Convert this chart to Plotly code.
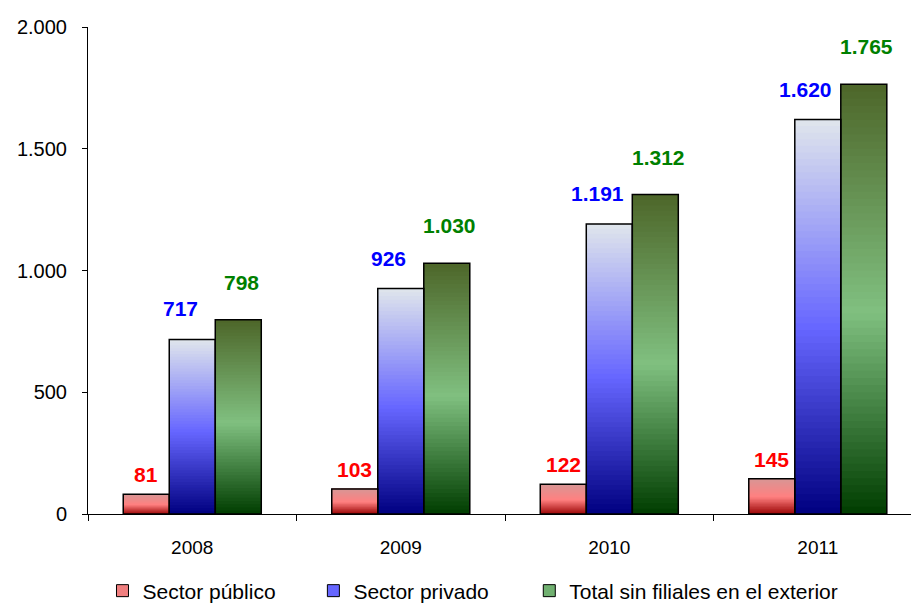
import plotly.graph_objects as go

# ---------------- data ----------------
years = ["2008", "2009", "2010", "2011"]
publico = [81, 103, 122, 145]
privado = [717, 926, 1191, 1620]
total = [798, 1030, 1312, 1765]
series_names = ["Sector público", "Sector privado", "Total sin filiales en el exterior"]
y_ticks = [0, 500, 1000, 1500, 2000]

# ---------------- styles ----------------
FONT = "Arial, Liberation Sans, sans-serif"
# gradient stops (t = 0 bottom, t = 1 top)
grad_pub = [(0.0, (150, 0, 0)), (0.5, (255, 128, 128)), (1.0, (217, 149, 148))]
grad_priv = [(0.0, (0, 0, 128)), (0.47, (102, 102, 255)), (1.0, (224, 230, 236))]
grad_tot = [(0.0, (0, 61, 0)), (0.47, (128, 192, 128)), (1.0, (77, 102, 41))]
legend_cols = ["#f07f7f", "#6666ff", "#70b070"]
label_cols = ["#ff0000", "#0000ff", "#008000"]
legend_x = [0.1125, 0.344, 0.581]   # container fractions
legend_ids = ["legend", "legend2", "legend3"]

N_SEG = 60
BARGAP = 0.338
L, R, T, B = 88, 0, 27, 91
W, H = 911, 605
X_RANGE = [-0.5, 3.447]
cat_px = (W - L - R) / (X_RANGE[1] - X_RANGE[0])
bar_px = cat_px * (1 - BARGAP) / 3
label_dx = [0, -12, 3]
label_dy = [6, 17, 24]


def grad_color(stops, t):
    for (t0, c0), (t1, c1) in zip(stops[:-1], stops[1:]):
        if t0 <= t <= t1:
            f = (t - t0) / (t1 - t0)
            c = [round(a + (b - a) * f) for a, b in zip(c0, c1)]
            return f"rgb({c[0]},{c[1]},{c[2]})"
    c = stops[-1][1]
    return f"rgb({c[0]},{c[1]},{c[2]})"


fig = go.Figure()
all_series = [publico, privado, total]
grads = [grad_pub, grad_priv, grad_tot]
groups = ["pub", "priv", "tot"]

# gradient fills
for vals, grad, grp in zip(all_series, grads, groups):
    xs, ys, bases, cols = [], [], [], []
    for yr, v in zip(years, vals):
        h = v / N_SEG
        for k in range(N_SEG):
            base = k * h
            xs.append(yr)
            ys.append(min(h * 1.6, v - base))
            bases.append(base)
            cols.append(grad_color(grad, (k + 0.5) / N_SEG))
    fig.add_trace(go.Bar(
        x=xs, y=ys, base=bases, offsetgroup=grp,
        marker=dict(color=cols, line=dict(width=0)),
        showlegend=False, hoverinfo="skip"))

# outlines
for vals, grp in zip(all_series, groups):
    fig.add_trace(go.Bar(
        x=years, y=vals, offsetgroup=grp,
        marker=dict(color="rgba(0,0,0,0)", line=dict(color="black", width=1.5)),
        showlegend=False, hoverinfo="skip"))

# legend entries
for name, col, grp, lid in zip(series_names, legend_cols, groups, legend_ids):
    fig.add_trace(go.Bar(
        x=[years[0]], y=[None], offsetgroup=grp, name=name, legend=lid,
        marker=dict(color=col, line=dict(color="black", width=1))))

# data labels
for si, (vals, col) in enumerate(zip(all_series, label_cols)):
    for i, v in enumerate(vals):
        fig.add_annotation(
            x=i, y=v, xref="x", yref="y",
            text="<b>" + f"{v:,}".replace(",", ".") + "</b>",
            showarrow=False, yanchor="bottom",
            xshift=(si - 1) * bar_px + label_dx[si], yshift=label_dy[si],
            font=dict(family=FONT, size=21, color=col))

legend_common = dict(orientation="h", xref="container", yref="container", xanchor="left",
                     y=14 / H, yanchor="middle", font=dict(size=21, family=FONT),
                     bgcolor="rgba(0,0,0,0)")
legends = {}
for lid, lx in zip(legend_ids, legend_x):
    legends[lid] = dict(legend_common, x=lx)

fig.update_layout(
    width=W, height=H,
    margin=dict(l=L, r=R, t=T, b=B, pad=0, autoexpand=False),
    paper_bgcolor="white", plot_bgcolor="white",
    barmode="group", bargap=BARGAP, bargroupgap=0,
    separators=",.",
    font=dict(family=FONT, color="black"),
    showlegend=True,
    xaxis=dict(type="category", range=X_RANGE, showline=True, linecolor="black", linewidth=1,
               ticks="outside", ticklen=6, tickcolor="black", tickson="boundaries",
               showgrid=False, tickfont=dict(size=19), ticklabelstandoff=16),
    yaxis=dict(range=[0, 2000], tickvals=y_ticks, tickformat=",d", showline=True,
               linecolor="black", linewidth=1, ticks="outside", ticklen=5, tickcolor="black",
               showgrid=False, zeroline=False, tickfont=dict(size=20), ticklabelstandoff=11),
    **legends,
)

fig.write_html("out.html")
